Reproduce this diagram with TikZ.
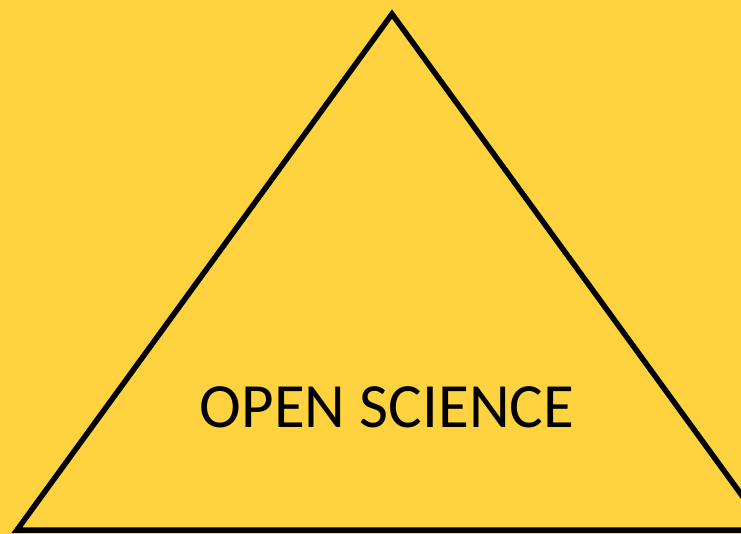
\documentclass[tikz,border=0pt]{standalone}
\usepackage{fontspec}
\setmainfont{Carlito}
\definecolor{bgyellow}{HTML}{FFD23F}
\tikzset{
  tri/.style={draw=black, line width=5.5pt, line join=miter},
  label/.style={font=\fontsize{63}{74}\selectfont, text=black, inner sep=0pt}
}
\begin{document}
\begin{tikzpicture}[x=1pt,y=-1pt]
\useasboundingbox (0,0) rectangle (741,534);
\clip (0,0) rectangle (741,534);
\fill[bgyellow] (0,0) rectangle (741,534);
\coordinate (apex) at (392,14);
\coordinate (bl) at (17,530);
\coordinate (br) at (767,530);
\draw[tri] (apex) -- (bl) -- (br) -- cycle;
\node[label] (title) at (387,407) {OPEN SCIENCE};
\end{tikzpicture}
\end{document}
